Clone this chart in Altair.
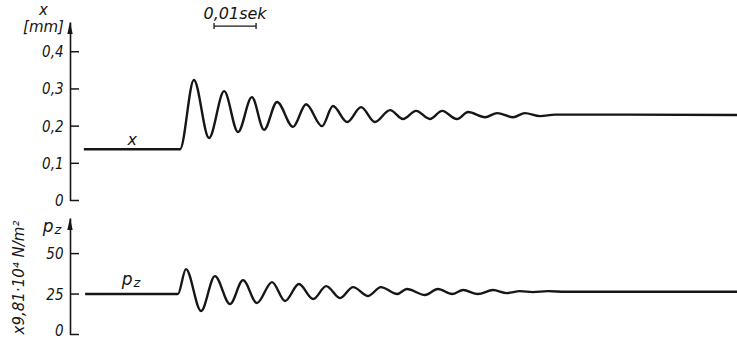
import altair as alt
import pandas as pd

# Displacement x [mm] against time [ms]
x_time = [3.3, 26.2, 29.5, 33.1, 36.7, 40.0, 43.3, 46.2, 49.3, 53.1, 56.2, 60.0,
          62.6, 66.0, 69.3, 72.6, 76.2, 79.3, 82.4, 85.7, 88.6, 92.1, 94.8, 98.8,
          101.7, 105.5, 108.3, 111.9, 115.5, 158.8]
x_disp = [0.138, 0.138, 0.324, 0.168, 0.294, 0.184, 0.278, 0.190, 0.265, 0.198,
          0.259, 0.200, 0.254, 0.211, 0.251, 0.211, 0.243, 0.219, 0.241, 0.219,
          0.241, 0.219, 0.238, 0.224, 0.235, 0.224, 0.235, 0.227, 0.231, 0.230]

# Pressure p_z [x 9.81·10^4 N/m^2] against time [ms]
p_time = [3.6, 25.7, 27.6, 31.2, 34.5, 38.1, 41.2, 44.5, 48.1, 51.2, 54.5, 57.9,
          61.0, 64.3, 67.4, 71.0, 74.0, 77.9, 80.2, 84.5, 87.6, 91.0, 93.6, 97.1,
          100.7, 104.0, 107.1, 110.2, 113.8, 117.9, 158.8]
p_val = [25.0, 25.0, 40.4, 14.5, 36.1, 18.8, 33.6, 19.4, 32.4, 20.7, 31.2, 21.9,
         29.9, 22.5, 29.3, 23.8, 29.3, 25.0, 28.1, 24.4, 28.1, 25.0, 27.5, 25.0,
         27.5, 25.6, 26.8, 26.2, 26.8, 26.4, 26.4]

x_ticks = [0, 0.1, 0.2, 0.3, 0.4]
p_ticks = [0, 25, 50]

# 0.01 s time scale bar (ms)
bar_start, bar_end, bar_level = 34.3, 44.3, 0.469

T_END = 158.8
X_TOP = 0.48
P_TOP = 72

W, H = 667, 312.5
TOP_RANGE = [178.5, 0]
BOT_RANGE = [312.5, 196]

INK = "#161616"
FONT = "Liberation Sans Narrow, DejaVu Sans Condensed, Liberation Sans, sans-serif"
WIDE = "DejaVu Sans, sans-serif"
ARROW = "M0,-1L0.45,1L-0.45,1Z"

tscale = alt.Scale(domain=[0, T_END], nice=False, zero=False)
xs = alt.Scale(domain=[0, X_TOP], range=TOP_RANGE, nice=False, zero=False)
ps = alt.Scale(domain=[0, P_TOP], range=BOT_RANGE, nice=False, zero=False)

text_style = dict(fontStyle="italic", color=INK, baseline="alphabetic", align="center")


def axis_common(**kw):
    return alt.Axis(
        orient="left", ticks=False, tickSize=0, grid=False,
        domainColor=INK, domainWidth=1.6,
        labelFont=FONT, labelFontStyle="italic", labelFontSize=15, labelColor=INK,
        labelPadding=7, labelOverlap=False,
        titleFontStyle="italic", titleFontWeight="normal", titleColor=INK, **kw
    )


x_axis = axis_common(
    values=x_ticks,
    labelExpr="datum.value == 0 ? '0' : replace(format(datum.value, '.1f'), '.', ',')",
    title=["x", "[mm]"], titleFont=WIDE, titleFontSize=15, titleAngle=0, titleX=-27, titleY=-20,
    titleAlign="center", titleBaseline="top", titleLineHeight=17,
)
p_axis = axis_common(
    values=p_ticks, format="d",
    # the zero label sits on the lower edge; lift it a little
    labelOffset=alt.condition("datum.value == 0", alt.value(-4), alt.value(0)),
    title="x9,81·10⁴ N/m²", titleFont=WIDE, titleFontSize=15, titleAngle=270, titleX=-52, titleY=255,
    titleAlign="center", titleBaseline="middle",
)

PANELS = {"x": (xs, x_axis), "p": (ps, p_axis)}


def tx(v):
    return alt.XDatum(v, type="quantitative", scale=tscale, axis=None)


def yf(panel, field="v"):
    scale, axis = PANELS[panel]
    return alt.Y(f"{field}:Q", scale=scale, axis=axis)


def yd(panel, v):
    scale, axis = PANELS[panel]
    return alt.YDatum(v, type="quantitative", scale=scale, axis=axis)


def label(text, t, v, panel, size=14, dy=0, font=FONT):
    return alt.Chart().mark_text(text=text, fontSize=size, dy=dy, font=font, **text_style).encode(
        x=tx(t), y=yd(panel, v)
    )


def tick_rules(values, panel):
    return alt.Chart(pd.DataFrame({"v": values})).mark_rule(color=INK, strokeWidth=1.5).encode(
        x=alt.value(0), x2=alt.value(9), y=yf(panel)
    )


def arrow(top, panel):
    return alt.Chart().mark_point(
        shape=ARROW, size=144, filled=True, color=INK, opacity=1, strokeWidth=0
    ).encode(x=alt.value(0), y=yd(panel, top), yOffset=alt.value(6))


def trace(df, panel):
    return alt.Chart(df).mark_line(color=INK, strokeWidth=2.4, interpolate="monotone").encode(
        x=alt.X("t:Q", scale=tscale, axis=None), y=yf(panel)
    )


# ---- upper panel: displacement ----
x_line = trace(pd.DataFrame({"t": x_time, "v": x_disp}), "x")
bar_df = pd.DataFrame({"t0": [bar_start], "t1": [bar_end], "v": [bar_level]})
x_bar = alt.Chart(bar_df).mark_rule(color=INK, strokeWidth=1.3).encode(
    x=alt.X("t0:Q", scale=tscale, axis=None), x2="t1:Q", y=yf("x")
)
bar_ends = pd.DataFrame({"t": [bar_start, bar_end], "v": [bar_level, bar_level]})
x_bar_ends = alt.Chart(bar_ends).mark_tick(orient="vertical", size=6, thickness=1.3, color=INK, opacity=1).encode(
    x=alt.X("t:Q", scale=tscale, axis=None), y=yf("x")
)
x_bar_text = label("0,01sek", (bar_start + bar_end) / 2, bar_level, "x", size=16, dy=-7, font=WIDE)
x_curve_label = label("x", 14.8, 0.149, "x", size=16, font=WIDE)

top = alt.layer(x_line, tick_rules(x_ticks, "x"), arrow(X_TOP, "x"),
                x_bar, x_bar_ends, x_bar_text, x_curve_label)

# ---- lower panel: pressure ----
p_line = trace(pd.DataFrame({"t": p_time, "v": p_val}), "p")
p_axis_p = label("p", -5.2, 63.3, "p", size=17, font=WIDE)
p_axis_z = label("z", -2.9, 62.0, "p", size=13, font=WIDE)
p_curve_p = label("p", 13.6, 30.6, "p", size=17, font=WIDE)
p_curve_z = label("z", 15.9, 29.3, "p", size=13, font=WIDE)

bottom = alt.layer(p_line, tick_rules(p_ticks, "p"), arrow(P_TOP, "p"),
                   p_axis_p, p_axis_z, p_curve_p, p_curve_z)

chart = (
    alt.layer(top, bottom)
    .resolve_scale(y="independent")
    .resolve_axis(y="independent")
    .properties(
        width=W, height=H,
        padding={"left": 70, "top": 22, "right": 0, "bottom": 5.5},
        autosize=alt.AutoSizeParams(type="none"),
        background="white",
    )
    .configure_view(stroke=None)
)

chart.save("out.html", embed_options={"renderer": "svg", "actions": False})
